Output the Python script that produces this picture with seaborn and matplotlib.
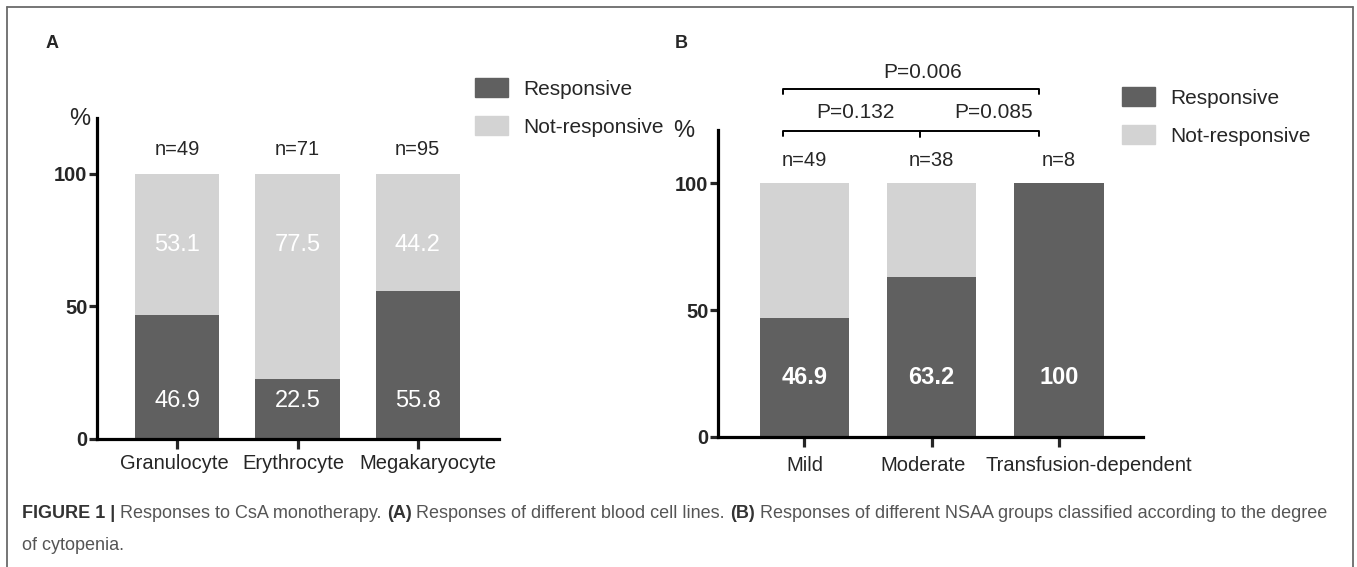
import matplotlib
matplotlib.use("Agg")
import matplotlib.pyplot as plt
from matplotlib.patches import Patch
from matplotlib.lines import Line2D
import seaborn as sns

# data
cell_lines = ["Granulocyte", "Erythrocyte", "Megakaryocyte"]
cell_resp = [46.9, 22.5, 55.8]
cell_not = [53.1, 77.5, 44.2]
cell_n = [49, 71, 95]

groups = ["Mild", "Moderate", "Transfusion-dependent"]
group_resp = [46.9, 63.2, 100]
group_not = [53.1, 36.8, 0]
group_n = [49, 38, 8]

p_labels = ["P=0.132", "P=0.085", "P=0.006"]

DARK = "#606060"
LIGHT = "#d3d3d3"

sns.set_style("ticks")
plt.rcParams["font.family"] = ["Liberation Sans", "DejaVu Sans"]

W, H = 1357, 567
fig = plt.figure(figsize=(W / 100, H / 100), dpi=100)


def px_axes(x0, x1, ytop, ybot):
    return fig.add_axes([x0 / W, 1 - ybot / H, (x1 - x0) / W, (ybot - ytop) / H])


def style_axis(ax, xlim, cats, shifts, pad):
    ax.set_ylim(0, 121)
    ax.set_xlim(*xlim)
    ax.set_yticks([0, 50, 100])
    sns.despine(ax=ax)
    for s in ["left", "bottom"]:
        ax.spines[s].set_linewidth(2.3)
        ax.spines[s].set_color("black")
    # tick marks at bar centres, labels on minor ticks slightly offset like the original
    # (minor ticks that sit exactly on a major one get dropped, hence the tiny offsets)
    pos = list(range(len(cats)))
    ax.set_xticks(pos, labels=[""] * len(cats))
    ax.set_xticks([p + d for p, d in zip(pos, shifts)], labels=cats, minor=True)
    ax.tick_params(axis="y", length=6, width=2.3, pad=1, labelsize=14.5)
    ax.tick_params(axis="x", which="major", length=7, width=2.3)
    ax.tick_params(axis="x", which="minor", length=0, pad=pad + 7, labelsize=14.5)
    for lab in ax.get_yticklabels():
        lab.set_fontweight("bold")
    ax.set_xlabel("")
    ax.set_ylabel("")


def stacked(ax, cats, resp, notr):
    total = [r + n for r, n in zip(resp, notr)]
    sns.barplot(x=cats, y=total, color=LIGHT, saturation=1, width=0.7, linewidth=0, ax=ax)
    sns.barplot(x=cats, y=resp, color=DARK, saturation=1, width=0.7, linewidth=0, ax=ax)


# panel A
axA = px_axes(97, 499, 118, 439)
stacked(axA, cell_lines, cell_resp, cell_not)
style_axis(axA, (-0.668, 2.676), cell_lines, [-0.025, -0.033, 0.083], 4)
for i in range(len(cell_lines)):
    axA.text(i, 73, f"{cell_not[i]:.1f}", ha="center", va="center", color="white", fontsize=17)
    axA.text(i, 14.5, f"{cell_resp[i]:.1f}", ha="center", va="center", color="white", fontsize=17)
    axA.text(i, 109, f"n={cell_n[i]}", ha="center", va="center", fontsize=14.5)

# panel B
axB = px_axes(718, 1143, 130, 437)
stacked(axB, groups, group_resp, group_not)
style_axis(axB, (-0.677, 2.66), groups, [0.004, -0.063, 0.236], 7)
for i in range(len(groups)):
    v = group_resp[i]
    axB.text(i, 23.5, f"{v:g}", ha="center", va="center", color="white",
             fontsize=17, fontweight="bold")
    axB.text(i, 109, f"n={group_n[i]}", ha="center", va="center", fontsize=14.5)

# significance brackets
bk = dict(color="black", lw=1.4, clip_on=False)
axB.plot([-0.17, -0.17, 1.84, 1.84], [118.5, 120.5, 120.5, 118.5], **bk)
axB.plot([0.906, 0.906], [120.5, 118.3], **bk)
axB.plot([-0.17, -0.17, 1.84, 1.84], [135, 137.3, 137.3, 135], **bk)
axB.text(0.40, 128, p_labels[0], ha="center", va="center", fontsize=15, clip_on=False)
axB.text(1.49, 128, p_labels[1], ha="center", va="center", fontsize=15, clip_on=False)
axB.text(0.93, 143.5, p_labels[2], ha="center", va="center", fontsize=15, clip_on=False)

# legends
handles = [Patch(color=DARK, label="Responsive"), Patch(color=LIGHT, label="Not-responsive")]
for ax, (lx, ly) in [(axA, (475, 78)), (axB, (1122, 87))]:
    ax.legend(handles=handles, loc="upper left", bbox_to_anchor=(lx / W, 1 - ly / H),
              bbox_transform=fig.transFigure, frameon=False, fontsize=15,
              handlelength=1.6, handleheight=1.05, handletextpad=0.7,
              labelspacing=0.82, borderpad=0, borderaxespad=0)

# panel letters and % labels
fig.text(52 / W, 1 - 43 / H, "A", fontsize=13, fontweight="bold", ha="center", va="center")
fig.text(681 / W, 1 - 43 / H, "B", fontsize=13, fontweight="bold", ha="center", va="center")
fig.text(80 / W, 1 - 119 / H, "%", fontsize=17, ha="center", va="center")
fig.text(684 / W, 1 - 131 / H, "%", fontsize=17, ha="center", va="center")

# border (top/left/right)
for xs, ys in [([7, 1353], [7, 7]), ([7, 7], [7, 570]), ([1353, 1353], [7, 570])]:
    fig.add_artist(Line2D([x / W for x in xs], [1 - y / H for y in ys],
                          color="#6a6a6a", lw=1.3, transform=fig.transFigure))

# caption, pieces placed one after another
cap1 = [("FIGURE 1 | ", "bold", "#333333"),
        ("Responses to CsA monotherapy. ", "normal", "#555555"),
        ("(A)", "bold", "#333333"),
        (" Responses of different blood cell lines. ", "normal", "#555555"),
        ("(B)", "bold", "#333333"),
        (" Responses of different NSAA groups classified according to the degree", "normal", "#555555")]
fig.canvas.draw()
r = fig.canvas.get_renderer()
x = 22
for txt, wt, col in cap1:
    t = fig.text(x / W, 1 - 514 / H, txt, fontsize=13.0, fontweight=wt, color=col,
                 ha="left", va="center")
    x += t.get_window_extent(renderer=r).width
fig.text(22 / W, 1 - 546 / H, "of cytopenia.", fontsize=13.0, color="#555555",
         ha="left", va="center")

fig.savefig("out.png", dpi=100)
